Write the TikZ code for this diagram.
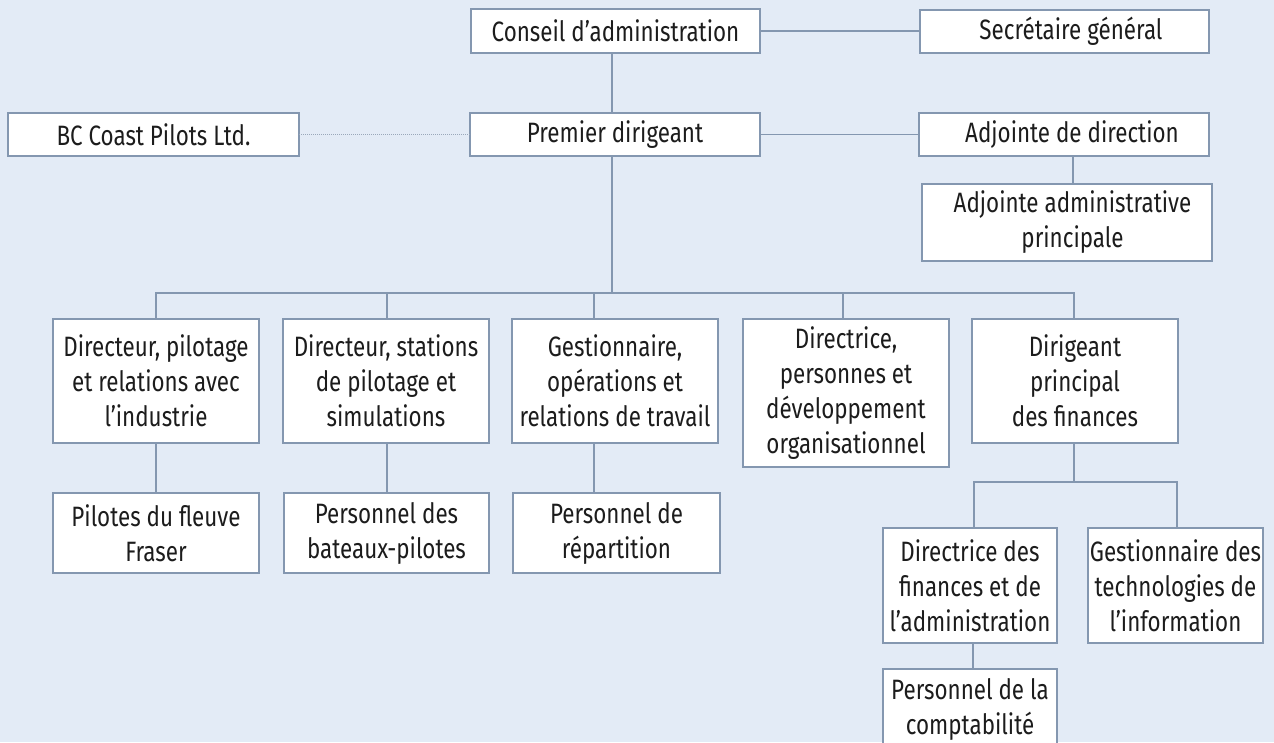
\documentclass[tikz,border=0pt]{standalone}
\usepackage{fontspec}
\setmainfont[FakeStretch=0.8]{Fira Sans}
\definecolor{bgc}{HTML}{E3EBF6}
\definecolor{linec}{HTML}{8497B0}
\definecolor{dotc}{HTML}{9AA8BA}
\definecolor{txtc}{HTML}{1C1C1C}
\tikzset{
  orgbox/.style={draw=linec, fill=white, line width=1.1pt, inner sep=0pt, outer sep=0pt,
    align=center, text=txtc, font=\fontsize{28}{35}\selectfont},
  conn/.style={draw=linec, line width=1.1pt},
  dotconn/.style={draw=dotc, line width=1.1pt, dash pattern=on 1pt off 1pt}
}
\begin{document}
\begin{tikzpicture}[x=1pt,y=-1pt]
\path[use as bounding box, fill=bgc] (0,0) rectangle (1274,742);
\clip (0,0) rectangle (1274,742);
% top rows
\node[orgbox, minimum width=289pt, minimum height=44pt] (conseil) at (615.5,31) {Conseil d’administration};
\node[orgbox, minimum width=289pt, minimum height=43pt] (secr) at (1064.5,31.5) {\hspace*{13pt}Secrétaire général};
\node[orgbox, minimum width=291pt, minimum height=43pt] (bc) at (153.5,134.5) {BC Coast Pilots Ltd.};
\node[orgbox, minimum width=290pt, minimum height=43pt] (premier) at (615,134.5) {Premier dirigeant};
\node[orgbox, minimum width=290pt, minimum height=43pt] (adjdir) at (1064,134.5) {\hspace*{16pt}Adjointe de direction};
\node[orgbox, minimum width=290pt, minimum height=77pt] (adjadm) at (1067,222.5) {\hspace*{11pt}Adjointe administrative\\\hspace*{11pt}principale};
% level 2
\node[orgbox, minimum width=206pt, minimum height=124pt] (dpil) at (156,381) {Directeur, pilotage\\et relations avec\\l’industrie};
\node[orgbox, minimum width=206pt, minimum height=124pt] (dsta) at (386,381) {Directeur, stations\\de pilotage et\\simulations};
\node[orgbox, minimum width=206pt, minimum height=124pt] (gest) at (615,381) {Gestionnaire,\\opérations et\\relations de travail};
\node[orgbox, minimum width=206pt, minimum height=148pt] (dpers) at (846,393) {Directrice,\\personnes et\\développement\\organisationnel};
\node[orgbox, minimum width=206pt, minimum height=124pt] (dfin) at (1075,381) {Dirigeant\\principal\\des finances};
% level 3
\node[orgbox, minimum width=206pt, minimum height=80pt] (pil) at (156,533) {Pilotes du fleuve\\Fraser};
\node[orgbox, minimum width=205pt, minimum height=80pt] (bat) at (386.5,533) {Personnel des\\bateaux-pilotes};
\node[orgbox, minimum width=207pt, minimum height=80pt] (rep) at (616.5,533) {Personnel de\\répartition};
% finance branch
\node[orgbox, minimum width=174pt, minimum height=115pt] (dirfin) at (970,585.5) {Directrice des\\finances et de\\l’administration};
\node[orgbox, minimum width=175pt, minimum height=115pt] (gti) at (1175.5,585.5) {Gestionnaire des\\technologies de\\l’information};
\node[orgbox, minimum width=174pt, minimum height=80pt] (compta) at (970,709) {Personnel de la\\comptabilité};
% coordinates
\coordinate (bus) at (612,293);
\coordinate (fbus) at (1074,482);
% connectors
\draw[conn] (conseil.east) -- (secr.west |- conseil.east);
\draw[conn] (conseil.south -| bus) -- (premier.north -| bus);
\draw[dotconn] (bc.east) -- (premier.west);
\draw[conn] (premier.east) -- (adjdir.west);
\draw[conn] (adjdir.south -| 1073,0) -- (adjadm.north -| 1073,0);
\draw[conn] (premier.south -| bus) -- (bus);
\draw[conn] (dpil.north -| 156,0) |- (bus) -| (dfin.north -| 1074,0);
\draw[conn] (dsta.north -| 387,0) -- (bus -| 387,0);
\draw[conn] (gest.north -| 594,0) -- (bus -| 594,0);
\draw[conn] (dpers.north -| 843,0) -- (bus -| 843,0);
\draw[conn] (dpil.south -| 156,0) -- (pil.north -| 156,0);
\draw[conn] (dsta.south -| 387,0) -- (bat.north -| 387,0);
\draw[conn] (gest.south -| 594,0) -- (rep.north -| 594,0);
\draw[conn] (dfin.south -| fbus) -- (fbus);
\draw[conn] (dirfin.north -| 974,0) |- (fbus) -| (gti.north -| 1177,0);
\draw[conn] (dirfin.south -| 973,0) -- (compta.north -| 973,0);
\end{tikzpicture}
\end{document}
